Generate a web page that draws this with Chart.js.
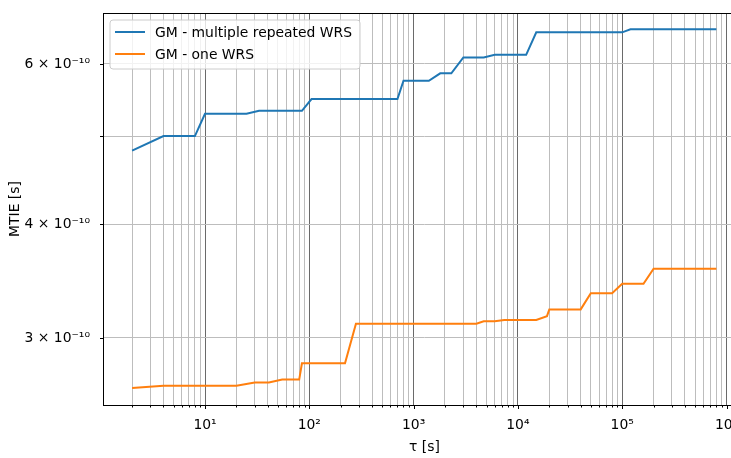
<!DOCTYPE html>
<html lang="en">
<head>
  <meta charset="UTF-8" />
  <title>MTIE</title>
  <script src="https://cdn.jsdelivr.net/npm/chart.js"></script>
  <style>
    html, body { margin: 0; padding: 0; background: #fff; overflow: hidden; }
    #wrap { width: 760px; height: 458px; }
  </style>
</head>
<body>
  <div id="wrap"><canvas id="mtieChart" width="760" height="458"></canvas></div>

  <script>
    // data
    const tauMulti = [2, 4, 8, 10, 25, 33, 85, 105, 700, 800, 1400, 1800, 2300, 3000, 4700, 6000, 12000, 15000, 100000, 120000, 800000];
    const mtieMulti = [4.82e-10, 5.0e-10, 5.0e-10, 5.29e-10, 5.29e-10, 5.33e-10, 5.33e-10, 5.49e-10, 5.49e-10, 5.75e-10, 5.75e-10,
      5.86e-10, 5.86e-10, 6.10e-10, 6.10e-10, 6.14e-10, 6.14e-10, 6.50e-10, 6.50e-10, 6.55e-10, 6.55e-10];

    const tauOne = [2, 4, 20, 30, 41, 55, 80, 85, 220, 280, 4000, 4700, 6000, 7400, 15000, 19000, 20000, 40000, 50000, 80000,
      100000, 160000, 200000, 800000];
    const mtieOne = [2.644e-10, 2.658e-10, 2.658e-10, 2.68e-10, 2.68e-10, 2.70e-10, 2.70e-10, 2.814e-10, 2.814e-10, 3.11e-10,
      3.11e-10, 3.13e-10, 3.13e-10, 3.14e-10, 3.14e-10, 3.17e-10, 3.225e-10, 3.225e-10, 3.36e-10, 3.36e-10, 3.44e-10, 3.44e-10,
      3.574e-10, 3.574e-10];

    const seriesLabels = ['GM - multiple repeated WRS', 'GM - one WRS'];
    const seriesColors = ['#1f77b4', '#ff7f0e'];

    const xDecades = [10, 100, 1000, 10000, 100000, 1000000];
    const xDecadeLabels = ['10¹', '10²', '10³', '10⁴', '10⁵', '10⁶'];
    const yGridValues = [3e-10, 4e-10, 5e-10, 6e-10];
    const yTickValues = [3e-10, 4e-10, 6e-10];
    const yTickLabels = ['3 × 10⁻¹⁰', '4 × 10⁻¹⁰', '6 × 10⁻¹⁰'];

    const FONT = 'DejaVu Sans';

    function toPoints(xs, ys) {
      return xs.map((x, i) => ({ x: x, y: ys[i] }));
    }

    // 1,2..9 x 10^k ticks for the log x axis
    function logTicks(min, max) {
      const out = [];
      for (let k = 0; k <= 6; k++) {
        for (let m = 1; m <= 9; m++) {
          const v = m * Math.pow(10, k);
          if (v >= min && v <= max) out.push({ value: v });
        }
      }
      return out;
    }

    // frame, tick marks and legend box like matplotlib
    const mplDecor = {
      id: 'mplDecor',
      afterDraw(chart) {
        const ctx = chart.ctx;
        const a = chart.chartArea;
        const xs = chart.scales.x, ys = chart.scales.y;
        ctx.save();

        // tick marks
        ctx.strokeStyle = '#000';
        ctx.lineWidth = 1;
        xs.ticks.forEach(t => {
          const px = Math.round(xs.getPixelForValue(t.value)) + 0.5;
          const len = xDecades.includes(t.value) ? 4 : 2.5;
          ctx.beginPath();
          ctx.moveTo(px, a.bottom);
          ctx.lineTo(px, a.bottom + len);
          ctx.stroke();
        });
        ys.ticks.forEach(t => {
          const py = Math.round(ys.getPixelForValue(t.value)) + 0.5;
          ctx.beginPath();
          ctx.moveTo(a.left, py);
          ctx.lineTo(a.left - 3, py);
          ctx.stroke();
        });

        // frame
        ctx.strokeRect(Math.round(a.left) + 0.5, Math.round(a.top) + 0.5,
          Math.round(a.right - a.left), Math.round(a.bottom - a.top));

        // legend
        const lx = 110, ly = 20, lw = 250, lh = 49, r = 3;
        ctx.beginPath();
        ctx.moveTo(lx + r, ly);
        ctx.arcTo(lx + lw, ly, lx + lw, ly + lh, r);
        ctx.arcTo(lx + lw, ly + lh, lx, ly + lh, r);
        ctx.arcTo(lx, ly + lh, lx, ly, r);
        ctx.arcTo(lx, ly, lx + lw, ly, r);
        ctx.closePath();
        ctx.fillStyle = 'rgba(255,255,255,0.8)';
        ctx.fill();
        ctx.strokeStyle = '#cccccc';
        ctx.stroke();

        ctx.font = '13.9px "' + FONT + '"';
        ctx.textBaseline = 'middle';
        ctx.textAlign = 'left';
        chart.data.datasets.forEach((ds, i) => {
          const yy = 32 + i * 22;
          ctx.strokeStyle = ds.borderColor;
          ctx.lineWidth = 2;
          ctx.beginPath();
          ctx.moveTo(115, yy);
          ctx.lineTo(145, yy);
          ctx.stroke();
          ctx.fillStyle = '#000';
          ctx.fillText(ds.label, 155, yy + 1);
        });
        ctx.restore();
      }
    };

    const ctx = document.getElementById('mtieChart').getContext('2d');
    new Chart(ctx, {
      type: 'line',
      data: {
        datasets: [
          {
            label: seriesLabels[0],
            data: toPoints(tauMulti, mtieMulti),
            borderColor: seriesColors[0],
            backgroundColor: seriesColors[0],
            borderWidth: 2,
            pointRadius: 0,
            tension: 0,
            fill: false
          },
          {
            label: seriesLabels[1],
            data: toPoints(tauOne, mtieOne),
            borderColor: seriesColors[1],
            backgroundColor: seriesColors[1],
            borderWidth: 2,
            pointRadius: 0,
            tension: 0,
            fill: false
          }
        ]
      },
      options: {
        responsive: false,
        animation: false,
        layout: { padding: { left: 0, top: 13, right: 14, bottom: 0 } },
        plugins: {
          legend: { display: false },
          tooltip: { enabled: false }
        },
        scales: {
          x: {
            type: 'logarithmic',
            min: 1.052,
            max: 1.538e6,
            afterBuildTicks: s => { s.ticks = logTicks(s.min, s.max); },
            afterFit: s => { s.height = 53; },
            grid: {
              drawTicks: true,
              tickLength: 9,
              tickColor: 'rgba(0,0,0,0)',
              lineWidth: 1,
              color: c => xDecades.includes(c.tick && c.tick.value) ? '#6a6a6a' : '#bdbdbd'
            },
            border: { display: false },
            ticks: {
              autoSkip: false,
              maxRotation: 0,
              padding: 3,
              color: '#000',
              font: { family: FONT, size: 13.9 },
              callback: v => {
                const i = xDecades.indexOf(v);
                return i >= 0 ? xDecadeLabels[i] : '';
              }
            },
            title: {
              display: true,
              text: 'τ [s]',
              color: '#000',
              font: { family: FONT, size: 13.9 },
              padding: { top: 0, bottom: 2 }
            }
          },
          y: {
            type: 'logarithmic',
            min: 2.532e-10,
            max: 6.826e-10,
            afterBuildTicks: s => { s.ticks = yGridValues.map(v => ({ value: v })); },
            afterFit: s => { s.width = 103; },
            grid: {
              drawTicks: true,
              tickLength: 10,
              tickColor: 'rgba(0,0,0,0)',
              lineWidth: 1,
              color: '#bdbdbd'
            },
            border: { display: false },
            ticks: {
              autoSkip: false,
              padding: 3,
              color: '#000',
              font: { family: FONT, size: 13.9 },
              callback: v => {
                const i = yTickValues.indexOf(v);
                return i >= 0 ? yTickLabels[i] : '';
              }
            },
            title: {
              display: true,
              text: 'MTIE [s]',
              color: '#000',
              font: { family: FONT, size: 13.9 },
              padding: { top: 7, bottom: 0 }
            }
          }
        }
      },
      plugins: [mplDecor]
    });
  </script>
</body>
</html>
